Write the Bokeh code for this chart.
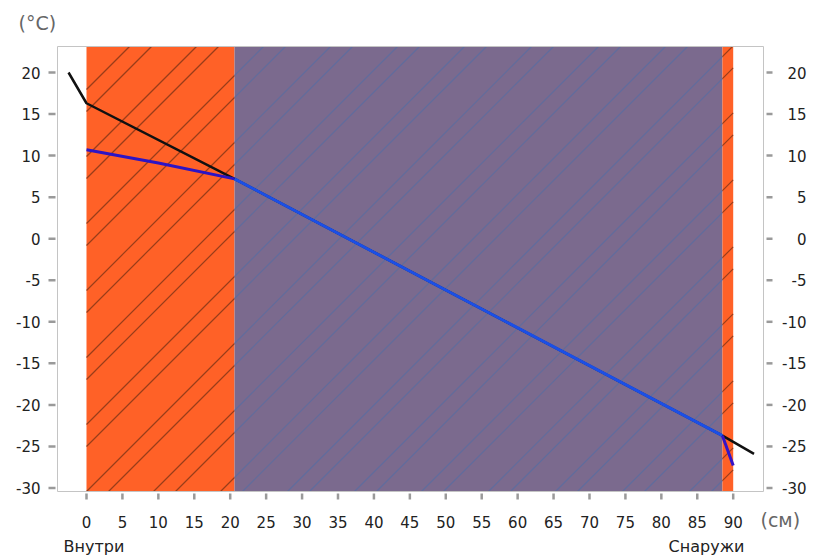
import numpy as np
from bokeh.plotting import figure
from bokeh.models import Range1d
from bokeh.core.properties import value
from bokeh.embed import file_html
from bokeh.resources import INLINE

# --- data ---
layer_left = [0, 20.6, 88.5]
layer_right = [20.6, 88.5, 90.0]
layer_fill = ["#ff6127", "#7b6a8e", "#ff6127"]
layer_hatch = ["#8e3a18", "#5d6d9e", "#8e3a18"]

black_x = [-2.5, 0, 20.6, 88.5, 92.9]
black_y = [20.0, 16.3, 7.2, -23.7, -25.9]

blue1_x = [0, 10, 20.6]
blue1_y = [10.7, 9.1, 7.2]
blue2_x = [20.6, 88.5]
blue2_y = [7.2, -23.7]
blue3_x = [88.5, 90.0]
blue3_y = [-23.7, -27.3]

x_ticks = list(range(0, 91, 5))
y_ticks = list(range(-30, 21, 5))
x_labels = [str(v) for v in x_ticks]
y_labels = [str(v) for v in y_ticks]

# --- pixel layout (picture pixels) ---
W, H = 819, 558
ORG = 0
PL, PR, PT, PB = 57, 763, 46, 491          # plot area edges
X_ORIG, Y_ORIG = 86.0, 72.0                  # px of x=0 and y=20
SX = (732.7 - 86.0) / 90.0                   # px per cm
SY = (487.5 - 72.0) / 50.0                   # px per degree

def px2x(px):
    return (px - X_ORIG) / SX

def py2y(py):
    return 20.0 - (py - Y_ORIG) / SY

X0, X1 = px2x(PL), px2x(PR)
Y0, Y1 = py2y(PB), py2y(PT)

p = figure(width=W, height=H, output_backend="svg", toolbar_location=None,
           x_range=Range1d(px2x(ORG), px2x(ORG + W)),
           y_range=Range1d(py2y(ORG + H), py2y(ORG)),
           x_axis_location=None, y_axis_location=None,
           min_border=0, min_border_left=0, min_border_right=0,
           min_border_top=0, min_border_bottom=0)
p.xgrid.visible = False
p.ygrid.visible = False
p.outline_line_color = None
p.background_fill_color = "white"
p.border_fill_color = "white"

# layer fills
p.quad(left=layer_left, right=layer_right, bottom=[Y0] * 3, top=[Y1] * 3,
       fill_color=layer_fill, line_color=None)

# diagonal hatching (45 deg in pixel space), pairs of lines 22px apart, period 67px
FH = PB - PT
for l, r, hc in zip(layer_left, layer_right, layer_hatch):
    pl, pr = (l - X0) * SX, (r - X0) * SX
    x0s, y0s, x1s, y1s = [], [], [], []
    for k in range(-20, 30):
        for off in (0, 22):
            c = 72 - FH + k * 67 + off   # line: py = px - c (py up from bottom)
            a = max(pl, c)
            b = min(pr, c + FH)
            if a < b:
                x0s.append(a / SX + X0); y0s.append((a - c) / SY + Y0)
                x1s.append(b / SX + X0); y1s.append((b - c) / SY + Y0)
    p.segment(x0s, y0s, x1s, y1s, line_color=hc, line_width=1.2, line_alpha=0.9)

# plot-area outline
p.quad(left=[X0], right=[X1], bottom=[Y0], top=[Y1], fill_color=None,
       line_color="#c4c4c4", line_width=1)

# data lines
p.line(black_x, black_y, line_color="#111111", line_width=2.5)
p.line(blue1_x, blue1_y, line_color="#2d14c4", line_width=3)
p.line(blue2_x, blue2_y, line_color="#1b4fe6", line_width=3)
p.line(blue3_x, blue3_y, line_color="#3414c8", line_width=3)

# axes: tick marks
TICK = "#9a9a9a"
nx, ny = len(x_ticks), len(y_ticks)
p.segment(x_ticks, [py2y(493)] * nx, x_ticks, [py2y(499)] * nx, line_color=TICK, line_width=2.5)
p.segment([px2x(48)] * ny, y_ticks, [px2x(55)] * ny, y_ticks, line_color=TICK, line_width=2.5)
p.segment([px2x(766)] * ny, y_ticks, [px2x(772)] * ny, y_ticks, line_color=TICK, line_width=2.5)

# axes: tick labels
F = value("DejaVu Sans")
p.text(x_ticks, [py2y(521.5)] * nx, text=x_labels, text_font=F, text_font_size="15px",
       text_color="#222222", text_align="center", text_baseline="middle")
p.text([px2x(40)] * ny, y_ticks, text=y_labels, text_font=F, text_font_size="15px",
       text_color="#222222", text_align="right", text_baseline="middle")
p.text([px2x(806)] * ny, y_ticks, text=y_labels, text_font=F, text_font_size="15px",
       text_color="#222222", text_align="right", text_baseline="middle")

# unit and side captions
p.text([px2x(18)], [py2y(22.5)], text=["(°C)"], text_font=F, text_font_size="19px",
       text_color="#666666", text_align="left", text_baseline="middle")
p.text([px2x(760)], [py2y(519)], text=["(см)"], text_font=F, text_font_size="19px",
       text_color="#666666", text_align="left", text_baseline="middle")
p.text([px2x(93.5), px2x(706)], [py2y(546)] * 2, text=["Внутри", "Снаружи"], text_font=F,
       text_font_size="16px", text_color="#222222", text_align="center", text_baseline="middle")

open("out.html", "w").write(file_html(p, INLINE))
